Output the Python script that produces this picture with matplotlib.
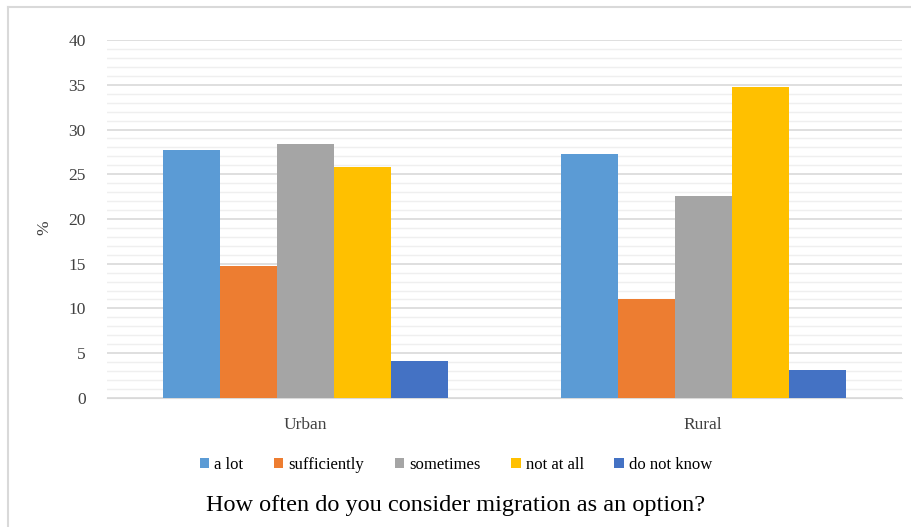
import matplotlib
matplotlib.use("Agg")
import matplotlib.pyplot as plt
import numpy as np
from matplotlib.lines import Line2D

# data
groups = ["Urban", "Rural"]
answers = ["a lot", "sufficiently", "sometimes", "not at all", "do not know"]
a_lot = [27.7, 27.3]
sufficiently = [14.7, 11.1]
sometimes = [28.4, 22.6]
not_at_all = [25.8, 34.7]
do_not_know = [4.1, 3.1]

colors = ["#5B9BD5", "#ED7D31", "#A5A5A5", "#FFC000", "#4472C4"]
series = [a_lot, sufficiently, sometimes, not_at_all, do_not_know]

plt.rcParams['font.family'] = ['Liberation Serif', 'DejaVu Serif']

fig = plt.figure(figsize=(9.12, 5.27), dpi=100)
ax = fig.add_axes([0.117, 0.245, 0.872, 0.679])

# light border on top and left (chart is cropped on the other sides)
fig.lines.append(Line2D([0.009, 0.009], [0.0, 0.987], transform=fig.transFigure,
                        color="#d9d9d9", linewidth=1.5))
fig.lines.append(Line2D([0.009, 1.0], [0.987, 0.987], transform=fig.transFigure,
                        color="#d9d9d9", linewidth=1.5))

x = np.arange(len(groups))
w = 0.1435
for i, (vals, c) in enumerate(zip(series, colors)):
    ax.bar(x + (i - 2) * w, vals, width=w, color=c, label=answers[i], zorder=3)

ax.set_xlim(-0.5, 1.5)
ax.set_ylim(0, 40)
ax.set_yticks(np.arange(0, 41, 5))
ax.set_yticks(np.arange(0, 41, 1), minor=True)
ax.grid(axis="y", which="major", color="#d9d9d9", linewidth=1.2, zorder=0)
ax.grid(axis="y", which="minor", color="#efefef", linewidth=1.0, zorder=0)
ax.set_xticks(x)
ax.set_xticklabels(groups)
for s in ["top", "right", "left"]:
    ax.spines[s].set_visible(False)
ax.spines["bottom"].set_color("#d9d9d9")
ax.tick_params(axis="both", which="both", length=0, labelsize=12.5, colors="#404040")
ax.tick_params(axis="y", pad=15)
ax.tick_params(axis="x", pad=14)
ax.set_ylabel("%", fontsize=12.5, color="#404040")
ax.yaxis.set_label_coords(-0.068, 0.475)

fig.legend(*ax.get_legend_handles_labels(), loc="center", bbox_to_anchor=(0.5, 0.117),
           ncol=5, frameon=False, fontsize=12, handlelength=0.55, handleheight=0.55,
           handletextpad=0.3, columnspacing=1.85)
fig.text(0.5, 0.04, "How often do you consider migration as an option?",
         ha="center", va="center", fontsize=17.5)

fig.savefig("out.png", dpi=100)
